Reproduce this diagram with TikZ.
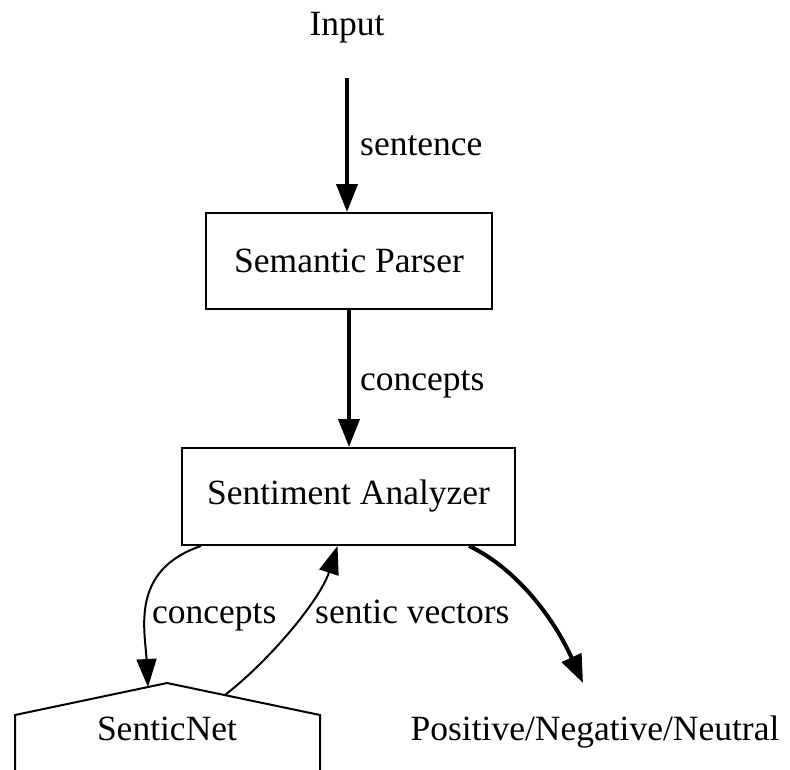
\documentclass[tikz,border=0pt]{standalone}
\usepackage{fontspec}
\setmainfont{Liberation Serif}
\usetikzlibrary{arrows.meta}
\tikzset{
  block/.style={draw, line width=2pt, inner sep=0pt},
  bold arrow/.style={line width=4pt, -{Triangle[length=28pt,width=21pt]}},
  thin arrow/.style={line width=2pt, -{Triangle[length=28pt,width=20pt]}},
  edge label/.style={anchor=base west, inner sep=0pt},
}
\begin{document}
\begin{tikzpicture}[x=1pt,y=-1pt,font=\fontsize{35.5}{42}\selectfont]
\useasboundingbox (0,0) rectangle (790,769);
\clip (0,0) rectangle (790,769);

%nodes
\node[anchor=base, inner sep=0pt] (input) at (347,35) {Input};
\coordinate (inputend) at (347,78);
\node[block, minimum width=286pt, minimum height=96pt] (parser) at (349,261) {Semantic Parser};
\node[block, minimum width=333pt, minimum height=97pt] (analyzer) at (348.5,496.5) {Sentiment Analyzer};
\node[anchor=base, inner sep=0pt] (result) at (595,740) {Positive/Negative/Neutral};
\coordinate (resultin) at (583,683);

%draw house
\draw[line width=2pt] (15,790) -- (15,715) -- (167,683) -- (320,715) -- (320,790);
\node[anchor=base, inner sep=0pt] (senticnet) at (167,740) {SenticNet};
\coordinate (senticin) at (148,687);
\coordinate (senticout) at (225,695);

%connectors
\draw[bold arrow] (inputend) -- (inputend |- parser.north);
\draw[bold arrow] (parser.south) -- (parser.south |- analyzer.north);
\draw[thin arrow] ([xshift=20pt]analyzer.south west) .. controls (130,570) and (145,630) .. (senticin);
\draw[thin arrow] (senticout) .. controls (270,660) and (320,600) .. ([xshift=-11pt]analyzer.south);
\draw[bold arrow] ([xshift=-47pt]analyzer.south east) .. controls (510,565) and (550,610) .. (resultin);

%labels
\node[edge label] (l1) at (360,155) {sentence};
\node[edge label] (l2) at (360,390) {concepts};
\node[edge label] (l3) at (152,623) {concepts};
\node[edge label] (l4) at (315,623) {sentic vectors};
\end{tikzpicture}
\end{document}
